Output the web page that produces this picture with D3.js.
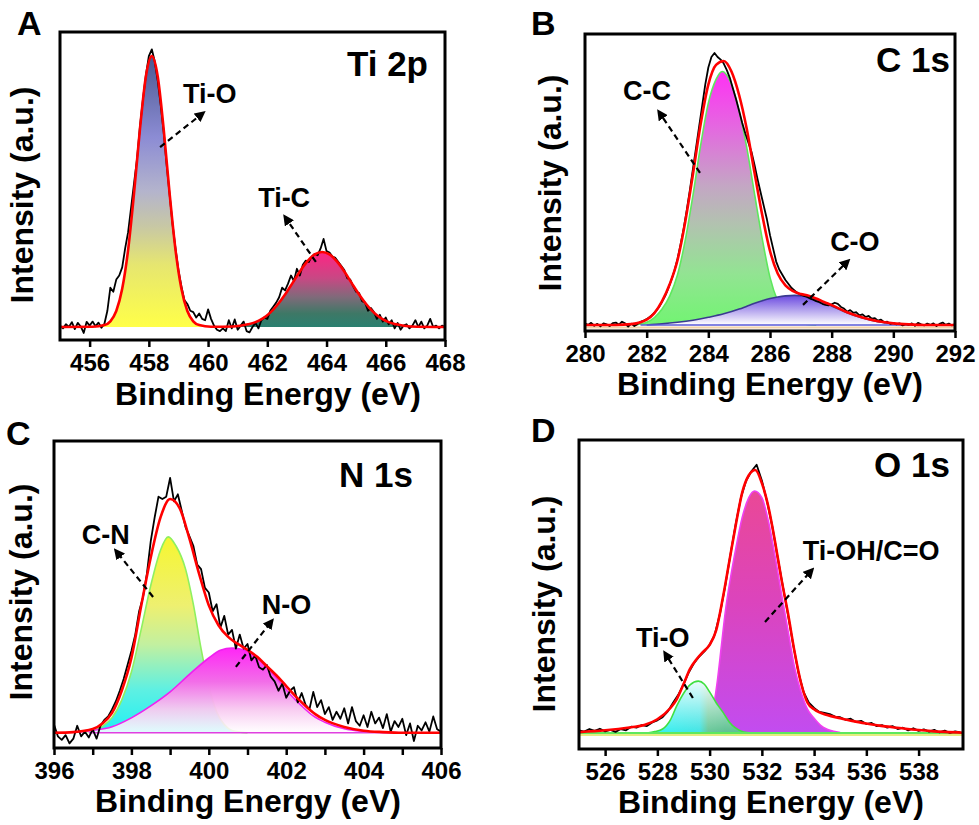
<!DOCTYPE html>
<html>
<head>
<meta charset="utf-8">
<script src="https://cdn.jsdelivr.net/npm/d3@7"></script>
<style>
  body { margin: 0; background: #fff; }
  text { font-family: "Liberation Sans", Arial, sans-serif; font-weight: bold; fill: #000; }
</style>
</head>
<body>
<svg id="chart" width="979" height="825"></svg>
<script>
// XPS spectra: raw counts (black), envelope fit (red) and fitted components.
// Intensities are arbitrary units with the background at 0 and the fit peak at 100.

// ---- Panel A: Ti 2p ----
var ticksA = [456, 458, 460, 462, 464, 466, 468];
var labelsA = ticksA;
var rawAStart = 455.0, rawAStep = 0.1;
var rawA = [
  0.5, -0.5, 1.0, 0.0, 1.8, -0.8, 1.5, 0.2, -2.2, 1.9,
  0.5, 2.0, 0.3, 1.6, -0.3, 1.2, 6.0, 14.5, 13.0, 17.5,
  19.0, 22.0, 29.0, 35.0, 44.0, 53.0, 62.0, 74.0, 84.0, 93.0,
  100.0, 102.5, 98.0, 91.0, 82.0, 72.0, 60.0, 49.0, 38.0, 29.0,
  21.0, 15.0, 10.0, 8.5, 6.0, 5.5, 3.5, 5.0, 3.0, 2.5,
  6.5, 3.0, 0.5, -1.0, -1.5, -0.5, -1.5, 2.5, -0.5, 2.8,
  -1.0, 0.5, 2.0, -1.5, -2.0, 0.0, 1.5, -0.5, 2.5, 3.5,
  3.0, 6.0, 7.5, 9.0, 11.0, 14.5, 13.5, 16.0, 19.0, 17.0,
  21.5, 19.0, 23.0, 24.5, 24.0, 26.0, 27.0, 26.5, 29.0, 32.5,
  28.0, 27.5, 26.0, 25.5, 24.0, 22.5, 21.0, 18.0, 17.5, 15.0,
  13.0, 12.5, 9.5, 9.0, 6.0, 7.0, 5.5, 3.0, 4.5, 2.0,
  3.5, 1.0, 2.5, -0.5, 1.5, -1.0, 0.5, 1.0, -0.5, 0.5,
  2.5, 0.0, 2.0, -0.5, 0.5, 3.0, 0.0, 0.5, -0.5, 0.5,
  0.0
];
var fitA = [[455.0,0],[456.1,0.1],[456.5,0.7],[456.7,2.1],[456.9,5.9],[457.1,14.1],[457.3,28.5],
  [457.5,49.4],[457.7,73.1],[457.9,92.5],[458.1,100],[458.3,92.5],[458.5,73.1],[458.7,49.4],
  [458.9,28.5],[459.1,14.1],[459.3,5.9],[459.5,2.1],[459.7,0.7],[460.1,0.1],[460.85,0.2],
  [461.35,1.0],[461.6,1.8],[461.85,3.2],[462.1,5.3],[462.35,8.3],[462.6,12.0],[462.85,16.2],
  [463.1,20.5],[463.35,24.2],[463.6,26.8],[463.85,27.7],[464.1,26.8],[464.35,24.2],[464.6,20.5],
  [464.85,16.2],[465.1,12.0],[465.35,8.3],[465.6,5.3],[465.85,3.2],[466.1,1.8],[466.35,1.0],
  [466.85,0.2],[468.0,0]];
var tiOA = [[456.1,0.1],[456.5,0.7],[456.7,2.1],[456.9,5.9],[457.1,14.1],[457.3,28.5],[457.5,49.4],
  [457.7,73.1],[457.9,92.5],[458.1,100],[458.3,92.5],[458.5,73.1],[458.7,49.4],[458.9,28.5],
  [459.1,14.1],[459.3,5.9],[459.5,2.1],[459.7,0.7],[460.1,0.1]];
var tiCA = [[460.85,0.2],[461.35,1.0],[461.6,1.8],[461.85,3.2],[462.1,5.3],[462.35,8.3],[462.6,12.0],
  [462.85,16.2],[463.1,20.5],[463.35,24.2],[463.6,26.8],[463.85,27.7],[464.1,26.8],[464.35,24.2],
  [464.6,20.5],[464.85,16.2],[465.1,12.0],[465.35,8.3],[465.6,5.3],[465.85,3.2],[466.1,1.8],
  [466.35,1.0],[466.85,0.2]];

// ---- Panel B: C 1s ----
var ticksB = [280, 282, 284, 286, 288, 290, 292];
var labelsB = ticksB;
var rawBStart = 280.0, rawBStep = 0.1;
var rawB = [
  0.5, 0.0, 0.8, -0.3, 0.4, -0.5, 0.6, 0.2, -0.4, 0.7,
  0.9, 0.1, 1.2, 0.6, -0.6, 0.5, -0.4, 0.3, 1.2, 1.6,
  2.2, 3.0, 4.0, 5.2, 6.8, 8.8, 11.0, 13.8, 17.0, 20.5,
  25.0, 30.5, 36.5, 43.5, 51.0, 59.0, 67.0, 75.0, 83.0, 91.0,
  97.5, 101.5, 103.0, 101.5, 100.5, 99.0, 96.5, 93.5, 89.5, 85.5,
  81.0, 76.5, 72.5, 69.0, 65.5, 60.5, 55.0, 50.0, 45.0, 40.0,
  34.0, 29.0, 24.0, 21.0, 19.0, 17.0, 15.5, 14.0, 13.0, 12.0,
  11.5, 11.0, 10.6, 10.0, 9.6, 9.0, 8.6, 8.0, 7.6, 7.4,
  7.8, 8.4, 8.0, 6.8, 6.2, 5.0, 5.6, 4.6, 4.8, 3.6,
  4.0, 3.0, 3.4, 2.4, 2.6, 1.6, 2.0, 1.0, 1.2, 0.4,
  0.8, 0.2, 0.6, -0.2, 0.4, 0.0, 0.6, -0.3, 0.8, 0.2,
  -0.2, 0.5, 0.0, 0.6, -0.4, 0.4, 0.9, 0.0, 0.5, -0.2,
  0.3
];
var fitB = [[280.0,0],[281.0,0],[281.5,0.3],[281.8,1.0],[282.0,2.0],[282.25,4.5],[282.5,9.0],
  [282.75,15.5],[283.0,24.5],[283.25,39],[283.5,57],[283.75,76],[284.0,91],[284.25,98.5],
  [284.5,100],[284.75,96],[285.0,87],[285.25,74],[285.5,57.5],[285.75,41.5],[286.0,28],
  [286.25,19.5],[286.5,15],[286.75,12.8],[287.0,11.7],[287.25,11.1],[287.5,10.0],[287.75,8.7],
  [288.0,7.5],[288.5,4.8],[289.0,2.8],[289.5,1.4],[290.0,0.6],[290.5,0.2],[291.0,0],[292.0,0]];
var ccB = [[281.6,0],[281.8,0.4],[282.0,1.0],[282.25,2.8],[282.5,6],[282.75,11],[283.0,19],
  [283.25,32],[283.5,49],[283.75,68],[284.0,84],[284.25,93],[284.45,96],[284.7,92.5],[285.0,81],
  [285.25,67],[285.5,49.5],[285.75,32.5],[286.0,18],[286.25,9],[286.5,4],[286.75,1.6],
  [287.0,0.6],[287.5,0]];
var coB = [[282.0,0],[282.5,0.4],[283.0,1.0],[283.5,1.8],[284.0,2.9],[284.5,4.2],[285.0,6.0],
  [285.25,7.1],[285.5,8.2],[285.75,9.2],[286.0,10.0],[286.25,10.6],[286.5,11.0],[286.8,11.2],
  [287.1,11.0],[287.5,9.6],[288.0,7.2],[288.5,4.6],[289.0,2.6],[289.5,1.2],[290.0,0.4],[290.5,0]];

// ---- Panel C: N 1s ----
var ticksC = [396, 397, 398, 399, 400, 401, 402, 403, 404, 405, 406];
var labelsC = [396, 398, 400, 402, 404, 406];
var rawCStart = 396.0, rawCStep = 0.1;
var rawC = [
  3.5, -1.5, -3.0, -1.0, -4.5, -2.5, 3.0, -1.5, 0.5, -2.0,
  1.5, -2.5, 3.0, 5.5, 7.0, 10.0, 13.5, 18.0, 23.0, 29.0,
  35.0, 42.0, 52.0, 58.0, 68.0, 82.0, 92.0, 101.0, 100.0, 101.0,
  109.0, 99.0, 102.0, 95.0, 88.0, 84.0, 80.0, 72.0, 70.0, 62.0,
  60.0, 52.0, 55.0, 45.0, 50.0, 42.0, 44.0, 36.0, 42.0, 36.0,
  38.0, 31.0, 33.0, 28.0, 27.0, 29.0, 24.0, 22.0, 18.0, 21.0,
  15.0, 18.0, 19.5, 13.0, 17.0, 12.0, 10.0, 17.5, 11.0, 14.0,
  8.0, 11.0, 5.5, 9.0, 6.0, 10.5, 4.0, 11.0, 5.0, 3.0,
  7.5, 2.5, 9.0, 4.0, 6.5, 2.0, 8.0, 0.5, 5.0, 2.5,
  6.0, -1.0, 4.0, -3.5, 3.0, 1.0, 4.5, 0.5, 7.0, 1.5,
  0.5
];
var fitC = [[396.0,0],[396.5,0.3],[397.0,1.6],[397.25,4],[397.5,8.5],[397.75,18],[398.0,32],
  [398.25,54],[398.5,75],[398.75,92],[399.0,100],[399.25,96],[399.5,83],[399.75,68],[400.0,54.5],
  [400.25,46],[400.5,41],[400.75,38],[401.0,35.5],[401.25,32.5],[401.5,28.5],[401.75,24.5],
  [402.0,20],[402.25,15.5],[402.5,11.5],[402.75,8],[403.0,5.5],[403.5,2.5],[404.0,0.9],
  [404.5,0.3],[405.0,0],[406.0,0]];
var cnC = [[396.8,0],[397.0,0.8],[397.25,2.8],[397.5,6.5],[397.75,14],[398.0,26],[398.25,44],
  [398.5,63],[398.75,78],[398.95,83.8],[399.15,80],[399.4,70],[399.6,55],[399.8,36],[400.0,20],
  [400.2,9],[400.4,3.5],[400.6,1],[401.0,0]];
var noC = [[396.5,0.2],[397.0,1.0],[397.5,2.6],[398.0,6.4],[398.5,11.5],[399.0,17.5],[399.5,25],
  [400.0,32],[400.3,35.3],[400.6,36.3],[400.9,35.5],[401.2,32.5],[401.5,28],[401.8,22.5],
  [402.1,16.5],[402.4,11.5],[402.7,7.2],[403.0,4.5],[403.5,1.7],[404.0,0.6],[404.5,0.2],[405.0,0]];

// ---- Panel D: O 1s ----
var ticksD = [526, 528, 530, 532, 534, 536, 538];
var labelsD = ticksD;
var rawDStart = 525.0, rawDStep = 0.2;
var rawD = [
  1.0, 0.5, 1.5, 0.8, 1.6, 0.6, 1.2, 0.4, 1.5, 1.0,
  2.4, 2.0, 3.0, 2.6, 4.0, 4.8, 6.0, 8.2, 11.5, 14.5,
  18.5, 23.0, 26.5, 29.0, 31.0, 33.5, 37.5, 45.5, 56.0, 68.0,
  79.5, 89.5, 96.0, 99.5, 102.0, 96.0, 88.0, 78.5, 67.0, 56.0,
  45.0, 33.5, 23.0, 15.5, 11.5, 9.5, 8.0, 7.6, 7.2, 6.2,
  6.0, 5.0, 5.4, 4.2, 4.6, 3.4, 3.8, 2.6, 3.0, 2.0,
  2.6, 1.5, 2.0, 1.0, 1.8, 0.8, 1.4, 0.5, 1.2, 0.2,
  0.9, 0.0, 0.6, 0.2
];
var fitD = [[525.0,0.3],[526.0,1.0],[527.0,2.2],[527.5,3.0],[528.0,5.2],[528.5,9.5],[528.75,13],
  [529.0,18.5],[529.25,24.4],[529.5,28],[529.75,30.8],[530.0,33.5],[530.25,39],[530.5,51],
  [530.75,65],[531.0,79],[531.25,91.5],[531.5,98],[531.75,100],[532.0,95],[532.25,86],[532.5,73],
  [532.75,58.5],[533.0,45.5],[533.25,31],[533.5,19],[533.75,11.5],[534.0,9],[534.5,6.8],
  [535.0,5.6],[535.5,4.5],[536.0,3.6],[536.5,2.8],[537.0,2.2],[537.5,1.6],[538.0,1.1],
  [538.5,0.7],[539.0,0.4],[539.7,0.1]];
var ohD = [[529.6,0.5],[529.8,1.5],[530.0,4],[530.15,10],[530.3,20],[530.45,33],[530.6,46],
  [530.8,59],[531.0,70],[531.25,82],[531.5,89.5],[531.72,92],[532.0,89.5],[532.25,80.5],
  [532.5,67.5],[532.75,53],[533.0,39],[533.25,25],[533.5,15.5],[533.75,9],[534.0,5.6],
  [534.25,2.9],[534.5,1.4],[534.75,0.6],[535.0,0.2]];
var tiOD = [[527.6,0],[527.9,0.5],[528.2,1.5],[528.5,5],[528.75,10.5],[529.0,15],[529.25,18.3],
  [529.57,19.7],[529.8,18.5],[530.0,15.6],[530.25,11.5],[530.5,8],[530.75,4.2],[531.0,1.8],
  [531.3,0.4],[531.6,0]];

// ---- layout ----
var panels = [
  {
    id: "A", title: "Ti 2p", ticks: ticksA, labels: labelsA,
    frame: {left: 60, right: 445, top: 32, bottom: 340},
    xDomain: [455, 468], yDomain: [-4.8, 108.9],
    raw: rawA, rawStart: rawAStart, rawStep: rawAStep, fit: fitA,
    components: [
      {data: tiOA, stops: [[0, "#4a5890"], [0.3, "#8c8cd4"], [0.5, "#b4b4cc"], [0.63, "#c8c8a4"], [0.77, "#e6e670"], [1, "#ffff48"]]},
      {data: tiCA, stops: [[0, "#ff2484"], [0.35, "#c84884"], [0.6, "#806a7a"], [0.82, "#3e7866"], [1, "#2a8070"]]}
    ],
    baselines: [],
    letterAt: [17, 35], titleAt: [428, 76], yTitleAt: [33, 195], xTitleAt: [268, 405],
    notes: [
      {text: "Ti-O", at: [459.15, 82.7], from: [458.38, 66.4], to: [459.83, 79.0]},
      {text: "Ti-C", at: [461.69, 44.3], from: [463.64, 24.0], to: [462.6, 40.6]}
    ]
  },
  {
    id: "B", title: "C 1s", ticks: ticksB, labels: labelsB,
    frame: {left: 585, right: 955, top: 34, bottom: 331},
    xDomain: [280, 292], yDomain: [-2.3, 110.2],
    raw: rawB, rawStart: rawBStart, rawStep: rawBStep, fit: fitB,
    components: [
      {data: ccB, stroke: "#5ee85e", stops: [[0, "#ff30f4"], [0.22, "#e468e0"], [0.45, "#c4a6c4"], [0.6, "#b2c2b0"], [0.8, "#92e492"], [1, "#72f472"]]},
      {data: coB, stroke: "#3a3a90", stops: [[0, "#6a48e0"], [0.5, "#b4a4ee"], [1, "#ffffff"]]}
    ],
    baselines: [
      {from: 280, to: 292, color: "#f2d2a8", width: 2, shift: 2.5},
      {from: 281.8, to: 292, color: "#5a5ad8", width: 1.5, shift: 0}
    ],
    letterAt: [531, 35], titleAt: [950, 72], yTitleAt: [561, 183], xTitleAt: [770, 395],
    notes: [
      {text: "C-C", at: [281.23, 85.2], from: [283.73, 57.6], to: [282.4, 80.7]},
      {text: "C-O", at: [287.95, 28.0], from: [287.07, 7.6], to: [288.53, 24.2]}
    ]
  },
  {
    id: "C", title: "N 1s", ticks: ticksC, labels: labelsC,
    frame: {left: 54, right: 441, top: 441, bottom: 748},
    xDomain: [396, 406], yDomain: [-6.5, 124.8],
    raw: rawC, rawStart: rawCStart, rawStep: rawCStep, fit: fitC,
    components: [
      {data: cnC, stroke: "#8ef060", stops: [[0, "#f6f630"], [0.35, "#eef070"], [0.55, "#c2f0a0"], [0.78, "#5ef0e2"], [1, "#20f0f4"]]},
      {data: noC, stroke: "#f020f0", stops: [[0, "#ff26f6", 1], [0.4, "#f26ee8", 1], [0.72, "#f8c8f0", 0.95], [1, "#ffffff", 0.85]]}
    ],
    baselines: [
      {from: 396.9, to: 406, color: "#e040e0", width: 1.5, shift: 0}
    ],
    letterAt: [6, 445], titleAt: [413, 487], yTitleAt: [32, 592], xTitleAt: [248, 812],
    notes: [
      {text: "C-N", at: [396.72, 80.8], from: [398.56, 58.1], to: [397.6, 77.8]},
      {text: "N-O", at: [401.37, 50.9], from: [400.7, 28.2], to: [401.63, 47.9]}
    ]
  },
  {
    id: "D", title: "O 1s", ticks: ticksD, labels: labelsD,
    frame: {left: 579, right: 963, top: 440, bottom: 749},
    xDomain: [525, 539.7], yDomain: [-6.1, 111.4],
    raw: rawD, rawStart: rawDStart, rawStep: rawDStep, fit: fitD,
    components: [
      {data: ohD, stroke: "#f040f0", stops: [[0, "#ea4896"], [0.45, "#dc44bc"], [1, "#c24cf0"]]},
      {data: tiOD, stroke: "#40e040",
       across: {from: 528.4, to: 530.6, stops: [[0, "#38eeee"], [0.55, "#40e4e4"], [0.7, "#66c898"], [1, "#5cc090"]]},
       stops: [[0, "#ffffff", 0.9], [0.5, "#ffffff", 0.45], [1, "#ffffff", 0]]}
    ],
    baselines: [
      {from: 525, to: 539.7, color: "#e6ec80", width: 2, shift: 2},
      {from: 525, to: 539.7, color: "#5ee85e", width: 2, shift: 0}
    ],
    letterAt: [531, 442], titleAt: [950, 477], yTitleAt: [555, 604], xTitleAt: [771, 813],
    notes: [
      {text: "Ti-OH/C=O", at: [533.57, 65.8], from: [532.12, 42.2], to: [533.92, 62.0]},
      {text: "Ti-O", at: [527.18, 32.7], from: [529.36, 13.3], to: [528.29, 30.4]}
    ]
  }
];

var svg = d3.select("#chart");
var defs = svg.append("defs");

defs.append("marker")
    .attr("id", "arrowHead")
    .attr("viewBox", "0 0 10 10")
    .attr("refX", 7)
    .attr("refY", 5)
    .attr("markerWidth", 5)
    .attr("markerHeight", 5)
    .attr("orient", "auto")
  .append("path")
    .attr("d", "M0,0L10,5L0,10z")
    .attr("fill", "#000");

function addStops(grad, stops) {
    stops.forEach(function(s) {
        grad.append("stop")
            .attr("offset", s[0])
            .attr("stop-color", s[1])
            .attr("stop-opacity", s.length > 2 ? s[2] : 1);
    });
}

function drawPanel(p) {
    var x = d3.scaleLinear().domain(p.xDomain).range([p.frame.left, p.frame.right]);
    var y = d3.scaleLinear().domain(p.yDomain).range([p.frame.bottom, p.frame.top]);
    var g = svg.append("g").attr("class", "panel" + p.id);

    defs.append("clipPath").attr("id", "clip" + p.id)
      .append("rect")
        .attr("x", p.frame.left)
        .attr("y", p.frame.top)
        .attr("width", p.frame.right - p.frame.left)
        .attr("height", p.frame.bottom - p.frame.top);

    var plot = g.append("g").attr("clip-path", "url(#clip" + p.id + ")");

    var area = d3.area()
        .x(d => x(d[0]))
        .y0(y(0))
        .y1(d => y(d[1]))
        .curve(d3.curveMonotoneX);
    var smooth = d3.line()
        .x(d => x(d[0]))
        .y(d => y(d[1]))
        .curve(d3.curveMonotoneX);
    var jagged = d3.line()
        .x(d => x(d[0]))
        .y(d => y(d[1]));

    // fitted components
    p.components.forEach(function(c, i) {
        var fills = [];
        if (c.across) {
            var hg = defs.append("linearGradient")
                .attr("id", "h" + p.id + i)
                .attr("gradientUnits", "userSpaceOnUse")
                .attr("x1", x(c.across.from)).attr("x2", x(c.across.to))
                .attr("y1", 0).attr("y2", 0);
            addStops(hg, c.across.stops);
            fills.push("h" + p.id + i);
        }
        var vg = defs.append("linearGradient")
            .attr("id", "v" + p.id + i)
            .attr("gradientUnits", "userSpaceOnUse")
            .attr("x1", 0).attr("x2", 0)
            .attr("y1", y(d3.max(c.data, d => d[1])))
            .attr("y2", y(0));
        addStops(vg, c.stops);
        fills.push("v" + p.id + i);

        fills.forEach(function(id) {
            plot.append("path")
                .datum(c.data)
                .attr("d", area)
                .attr("fill", "url(#" + id + ")");
        });
        if (c.stroke) {
            plot.append("path")
                .datum(c.data)
                .attr("d", smooth)
                .attr("fill", "none")
                .attr("stroke", c.stroke)
                .attr("stroke-width", 1.6);
        }
    });

    // background lines
    p.baselines.forEach(function(b) {
        plot.append("line")
            .attr("x1", x(b.from)).attr("x2", x(b.to))
            .attr("y1", y(0) + b.shift).attr("y2", y(0) + b.shift)
            .attr("stroke", b.color)
            .attr("stroke-width", b.width);
    });

    // measured spectrum
    var rawPts = p.raw.map((v, i) => [p.rawStart + i * p.rawStep, v]);
    plot.append("path")
        .datum(rawPts)
        .attr("d", jagged)
        .attr("fill", "none")
        .attr("stroke", "#000")
        .attr("stroke-width", 1.8)
        .attr("stroke-linejoin", "round");

    // envelope
    plot.append("path")
        .datum(p.fit)
        .attr("d", smooth)
        .attr("fill", "none")
        .attr("stroke", "#ff0000")
        .attr("stroke-width", 2.6);

    // frame
    g.append("rect")
        .attr("x", p.frame.left)
        .attr("y", p.frame.top)
        .attr("width", p.frame.right - p.frame.left)
        .attr("height", p.frame.bottom - p.frame.top)
        .attr("fill", "none")
        .attr("stroke", "#000")
        .attr("stroke-width", 3);

    var bottomAxis = d3.axisBottom(x)
        .tickValues(p.ticks)
        .tickSize(7)
        .tickPadding(7)
        .tickFormat(d => p.labels.indexOf(d) >= 0 ? d : "");
    var axisG = g.append("g")
        .attr("transform", `translate(0, ${p.frame.bottom})`)
        .call(bottomAxis);
    axisG.select(".domain").remove();
    axisG.attr("font-family", null).attr("font-size", null);
    axisG.selectAll(".tick line").attr("stroke", "#000").attr("stroke-width", 2.5);
    axisG.selectAll(".tick text").attr("font-size", 24).attr("fill", "#000");

    // panel letter and core level
    g.append("text")
        .attr("x", p.letterAt[0]).attr("y", p.letterAt[1])
        .attr("font-size", 34)
        .text(p.id);
    g.append("text")
        .attr("x", p.titleAt[0]).attr("y", p.titleAt[1])
        .attr("text-anchor", "end")
        .attr("font-size", 35)
        .text(p.title);

    // axis titles
    g.append("text")
        .attr("transform", `translate(${p.yTitleAt[0]}, ${p.yTitleAt[1]}) rotate(-90)`)
        .attr("text-anchor", "middle")
        .attr("font-size", 32)
        .text("Intensity (a.u.)");
    g.append("text")
        .attr("x", p.xTitleAt[0]).attr("y", p.xTitleAt[1])
        .attr("text-anchor", "middle")
        .attr("font-size", 32)
        .text("Binding Energy (eV)");

    // peak annotations
    p.notes.forEach(function(n) {
        g.append("line")
            .attr("x1", x(n.from[0])).attr("y1", y(n.from[1]))
            .attr("x2", x(n.to[0])).attr("y2", y(n.to[1]))
            .attr("stroke", "#000")
            .attr("stroke-width", 2.2)
            .attr("stroke-dasharray", "6,4")
            .attr("marker-end", "url(#arrowHead)");
        g.append("text")
            .attr("x", x(n.at[0])).attr("y", y(n.at[1]))
            .attr("font-size", 27)
            .text(n.text);
    });
}

panels.forEach(drawPanel);
</script>
</body>
</html>
